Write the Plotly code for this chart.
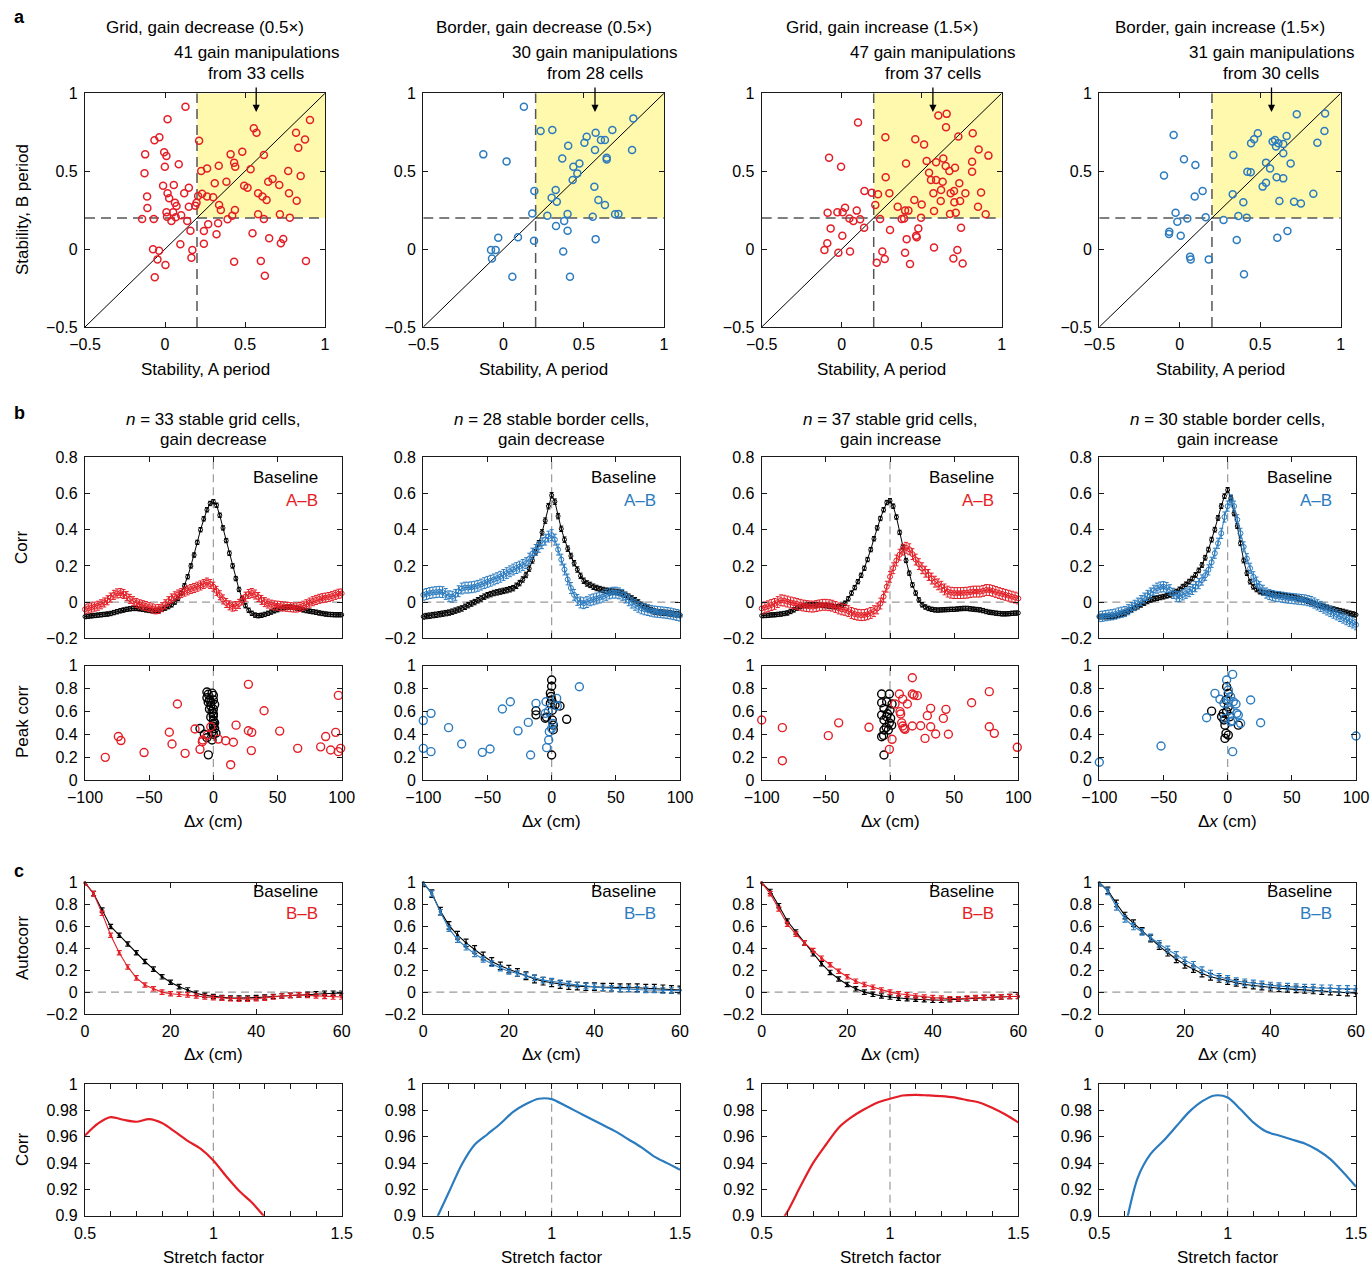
import plotly.graph_objects as go

W, H = 1372, 1266
RED = "#e41e26"
BLUE = "#2b7bbf"
FONT = "Liberation Sans"
MINUS = "\u2212"

# ---------------- Row a: stability scatter ----------------
a_titles = ["Grid, gain decrease (0.5\u00d7)", "Border, gain decrease (0.5\u00d7)",
            "Grid, gain increase (1.5\u00d7)", "Border, gain increase (1.5\u00d7)"]
a_note1 = ["41 gain manipulations", "30 gain manipulations", "47 gain manipulations", "31 gain manipulations"]
a_note2 = ["from 33 cells", "from 28 cells", "from 37 cells", "from 30 cells"]
a_colors = [RED, BLUE, RED, BLUE]

a1_pts = [(0.128, 0.913), (0.016, 0.834), (-0.066, 0.699), (-0.035, 0.718), (-0.124, 0.608), (-0.128, 0.487),
          (-0.112, 0.337), (-0.110, 0.264), (-0.143, 0.193), (-0.070, 0.193), (-0.005, 0.621), (0.009, 0.598),
          (-0.001, 0.529), (0.086, 0.544), (-0.012, 0.407), (0.055, 0.411), (0.016, 0.358), (0.026, 0.326),
          (0.062, 0.298), (0.072, 0.277), (0.009, 0.236), (0.051, 0.236), (0.013, 0.208), (0.040, 0.180),
          (0.067, 0.204), (0.101, 0.217), (0.120, 0.358), (0.149, 0.394), (0.149, 0.272), (0.197, 0.298),
          (0.189, 0.279), (0.139, 0.180), (0.159, 0.118), (0.207, 0.341), (0.213, 0.696), (0.226, 0.501),
          (0.263, 0.518), (0.232, 0.355), (0.263, 0.337), (0.301, 0.333), (0.311, 0.422), (0.336, 0.535),
          (0.338, 0.283), (0.349, 0.251), (0.243, 0.116), (0.270, 0.159), (0.332, 0.166), (0.322, 0.095),
          (0.243, 0.034), (0.384, 0.432), (0.391, 0.191), (0.410, 0.608), (0.432, 0.555), (0.439, 0.529),
          (0.437, 0.251), (0.420, 0.214), (0.483, 0.625), (0.495, 0.407), (0.516, 0.394), (0.535, 0.512),
          (0.555, 0.775), (0.572, 0.747), (0.618, 0.604), (0.582, 0.358), (0.609, 0.337), (0.635, 0.315),
          (0.582, 0.223), (0.618, 0.193), (0.547, 0.101), (0.645, 0.432), (0.672, 0.450), (0.714, 0.411),
          (0.770, 0.501), (0.775, 0.358), (0.819, 0.747), (0.833, 0.651), (0.875, 0.704), (0.906, 0.829),
          (0.848, 0.469), (0.823, 0.311), (0.718, 0.223), (0.780, 0.202), (0.651, 0.069), (0.739, 0.065),
          (0.724, 0.037), (0.432, -0.081), (0.599, -0.077), (0.624, -0.171), (0.881, -0.077), (-0.075, -0.001),
          (-0.037, -0.010), (-0.047, -0.066), (-0.064, -0.181), (0.003, -0.102), (0.096, 0.031), (0.171, -0.006),
          (0.165, -0.055)]
a2_pts = [(0.127, 0.913), (-0.126, 0.608), (0.019, 0.563), (0.231, 0.758), (0.304, 0.764), (0.192, 0.373),
          (0.179, 0.229), (0.273, 0.214), (0.190, 0.054), (0.090, 0.076), (-0.033, 0.073), (-0.078, -0.006),
          (-0.049, -0.006), (-0.072, -0.060), (0.055, -0.177), (0.300, 0.330), (0.325, 0.379), (0.332, 0.304),
          (0.327, 0.148), (0.366, 0.582), (0.403, 0.664), (0.378, 0.180), (0.399, 0.225), (0.399, 0.118),
          (0.372, -0.016), (0.414, -0.177), (0.431, 0.443), (0.435, 0.529), (0.460, 0.486), (0.473, 0.550),
          (0.504, 0.682), (0.518, 0.721), (0.574, 0.747), (0.570, 0.636), (0.566, 0.400), (0.591, 0.315),
          (0.556, 0.208), (0.574, 0.064), (0.607, 0.700), (0.632, 0.700), (0.643, 0.586), (0.643, 0.575),
          (0.632, 0.283), (0.678, 0.764), (0.695, 0.223), (0.716, 0.225), (0.809, 0.839), (0.801, 0.636)]
a3_pts = [(0.102, 0.812), (-0.079, 0.587), (-0.004, 0.529), (-0.088, 0.234), (-0.027, 0.236), (0.006, 0.236),
          (0.021, 0.266), (0.094, 0.247), (-0.069, 0.133), (-0.090, 0.037), (-0.108, -0.006), (-0.021, -0.023),
          (0.004, 0.086), (0.048, 0.197), (0.073, 0.180), (0.115, 0.191), (0.140, 0.137), (0.052, -0.016),
          (0.142, 0.373), (0.188, 0.362), (0.210, 0.283), (0.227, 0.352), (0.240, 0.193), (0.302, 0.122),
          (0.298, 0.358), (0.254, -0.016), (0.269, -0.064), (0.219, -0.088), (0.273, 0.718), (0.275, 0.461),
          (0.350, 0.272), (0.375, 0.193), (0.390, 0.197), (0.396, 0.247), (0.417, 0.247), (0.402, 0.550),
          (0.406, 0.064), (0.396, -0.023), (0.427, -0.096), (0.454, 0.315), (0.460, 0.705), (0.479, 0.133),
          (0.465, 0.086), (0.469, 0.076), (0.496, 0.202), (0.500, 0.287), (0.515, 0.672), (0.531, 0.565),
          (0.546, 0.490), (0.558, 0.443), (0.590, 0.443), (0.573, 0.358), (0.577, 0.244), (0.577, 0.011),
          (0.604, 0.857), (0.656, 0.868), (0.652, 0.782), (0.590, 0.557), (0.635, 0.582), (0.650, 0.533),
          (0.631, 0.432), (0.621, 0.379), (0.619, 0.308), (0.673, 0.501), (0.681, 0.358), (0.677, 0.225),
          (0.708, 0.522), (0.702, 0.373), (0.704, 0.300), (0.713, 0.234), (0.729, 0.722), (0.735, 0.422),
          (0.740, 0.308), (0.723, -0.006), (0.746, 0.137), (0.698, -0.060), (0.756, -0.092), (0.773, 0.358),
          (0.819, 0.743), (0.815, 0.561), (0.815, 0.497), (0.856, 0.640), (0.852, 0.272), (0.871, 0.364),
          (0.917, 0.600), (0.900, 0.223)]
a4_pts = [(-0.038, 0.733), (-0.098, 0.472), (0.026, 0.576), (0.097, 0.540), (0.093, 0.337), (0.142, 0.373),
          (0.161, 0.204), (0.047, 0.197), (-0.026, 0.234), (-0.015, 0.176), (-0.065, 0.112), (-0.067, 0.097),
          (0.006, 0.086), (0.064, -0.049), (0.068, -0.066), (0.180, -0.066), (0.272, 0.187), (0.333, 0.604),
          (0.329, 0.352), (0.364, 0.212), (0.354, 0.058), (0.395, 0.300), (0.420, 0.497), (0.441, 0.493),
          (0.416, 0.202), (0.399, -0.162), (0.443, 0.680), (0.462, 0.705), (0.485, 0.743), (0.515, 0.401),
          (0.536, 0.426), (0.536, 0.555), (0.561, 0.518), (0.577, 0.690), (0.592, 0.700), (0.598, 0.658),
          (0.613, 0.680), (0.602, 0.461), (0.643, 0.675), (0.643, 0.615), (0.643, 0.454), (0.619, 0.308),
          (0.606, 0.073), (0.664, 0.726), (0.669, 0.116), (0.689, 0.550), (0.710, 0.304), (0.753, 0.293),
          (0.727, 0.865), (0.830, 0.355), (0.855, 0.683), (0.899, 0.758), (0.903, 0.871)]
a_pts = [a1_pts, a2_pts, a3_pts, a4_pts]
stab_threshold = 0.2
arrow_x = 0.57

# ---------------- Row b: cross-correlation ----------------
b_title1 = ["<i>n</i> = 33 stable grid cells,", "<i>n</i> = 28 stable border cells,",
            "<i>n</i> = 37 stable grid cells,", "<i>n</i> = 30 stable border cells,"]
b_title2 = ["gain decrease", "gain decrease", "gain increase", "gain increase"]
lag_cm = [-100 + 2.5 * i for i in range(81)]

b1_base = [-0.080, -0.078, -0.076, -0.074, -0.072, -0.070, -0.068, -0.066, -0.063, -0.058, -0.053, -0.048,
           -0.044, -0.040, -0.037, -0.035, -0.035, -0.037, -0.040, -0.043, -0.046, -0.048, -0.048, -0.045,
           -0.040, -0.033, -0.025, -0.015, 0.000, 0.020, 0.050, 0.090, 0.140, 0.200, 0.260, 0.330, 0.400,
           0.460, 0.510, 0.545, 0.555, 0.535, 0.480, 0.410, 0.340, 0.270, 0.200, 0.130, 0.070, 0.020, -0.020,
           -0.045, -0.062, -0.072, -0.075, -0.073, -0.068, -0.062, -0.055, -0.048, -0.042, -0.036, -0.031,
           -0.028, -0.027, -0.029, -0.033, -0.038, -0.043, -0.047, -0.050, -0.053, -0.056, -0.060, -0.063,
           -0.066, -0.068, -0.069, -0.070, -0.070, -0.070]
b1_ab = [-0.040, -0.035, -0.030, -0.025, -0.020, -0.012, -0.002, 0.010, 0.025, 0.040, 0.048, 0.050, 0.045,
         0.033, 0.018, 0.005, -0.005, -0.012, -0.017, -0.022, -0.028, -0.035, -0.040, -0.038, -0.028, -0.012,
         0.005, 0.020, 0.032, 0.042, 0.050, 0.058, 0.065, 0.072, 0.078, 0.085, 0.092, 0.100, 0.108, 0.100,
         0.085, 0.062, 0.038, 0.015, -0.005, -0.018, -0.025, -0.022, -0.010, 0.010, 0.030, 0.045, 0.050,
         0.042, 0.028, 0.012, 0.000, -0.008, -0.014, -0.018, -0.020, -0.022, -0.024, -0.026, -0.028, -0.030,
         -0.030, -0.027, -0.020, -0.012, -0.003, 0.005, 0.012, 0.018, 0.022, 0.025, 0.028, 0.033, 0.040,
         0.046, 0.048]
b2_base = [-0.080, -0.077, -0.075, -0.072, -0.070, -0.067, -0.064, -0.061, -0.058, -0.053, -0.047, -0.041,
           -0.035, -0.026, -0.017, -0.008, 0.000, 0.010, 0.020, 0.030, 0.038, 0.044, 0.050, 0.054, 0.058,
           0.062, 0.066, 0.071, 0.077, 0.090, 0.105, 0.125, 0.150, 0.185, 0.230, 0.275, 0.325, 0.385, 0.450,
           0.530, 0.590, 0.555, 0.475, 0.405, 0.345, 0.295, 0.255, 0.215, 0.180, 0.145, 0.118, 0.103, 0.095,
           0.085, 0.078, 0.072, 0.067, 0.063, 0.060, 0.058, 0.056, 0.053, 0.048, 0.040, 0.030, 0.020, 0.010,
           -0.002, -0.015, -0.025, -0.035, -0.044, -0.052, -0.055, -0.057, -0.059, -0.060, -0.063, -0.066,
           -0.068, -0.070]
b2_ab = [0.040, 0.045, 0.050, 0.053, 0.055, 0.057, 0.055, 0.045, 0.032, 0.030, 0.040, 0.060, 0.075, 0.080,
         0.080, 0.082, 0.085, 0.090, 0.097, 0.105, 0.112, 0.118, 0.125, 0.132, 0.140, 0.150, 0.160, 0.170,
         0.180, 0.188, 0.196, 0.205, 0.215, 0.240, 0.268, 0.288, 0.305, 0.325, 0.345, 0.362, 0.370, 0.345,
         0.290, 0.235, 0.180, 0.125, 0.078, 0.040, 0.012, -0.002, -0.006, 0.000, 0.010, 0.015, 0.020, 0.025,
         0.030, 0.040, 0.048, 0.052, 0.052, 0.048, 0.040, 0.025, 0.010, -0.003, -0.015, -0.026, -0.035,
         -0.040, -0.044, -0.048, -0.052, -0.054, -0.056, -0.058, -0.060, -0.063, -0.067, -0.071, -0.075]
b3_base = [-0.075, -0.074, -0.073, -0.071, -0.070, -0.068, -0.066, -0.063, -0.060, -0.052, -0.043, -0.033,
           -0.025, -0.020, -0.017, -0.015, -0.015, -0.016, -0.017, -0.019, -0.020, -0.022, -0.025, -0.026,
           -0.025, -0.018, -0.006, 0.018, 0.050, 0.080, 0.113, 0.148, 0.187, 0.235, 0.290, 0.350, 0.410,
           0.462, 0.510, 0.550, 0.560, 0.530, 0.470, 0.385, 0.305, 0.230, 0.160, 0.095, 0.050, 0.012, -0.015,
           -0.027, -0.035, -0.040, -0.043, -0.044, -0.043, -0.042, -0.041, -0.040, -0.040, -0.038, -0.036,
           -0.035, -0.035, -0.037, -0.039, -0.041, -0.043, -0.047, -0.052, -0.056, -0.058, -0.061, -0.063,
           -0.065, -0.065, -0.064, -0.062, -0.061, -0.060]
b3_ab = [-0.035, -0.030, -0.023, -0.016, -0.010, 0.000, 0.010, 0.008, 0.003, -0.002, -0.006, -0.010, -0.015,
         -0.019, -0.022, -0.024, -0.025, -0.022, -0.018, -0.015, -0.015, -0.017, -0.020, -0.027, -0.035,
         -0.040, -0.043, -0.050, -0.060, -0.066, -0.070, -0.072, -0.071, -0.067, -0.060, -0.050, -0.035,
         -0.008, 0.030, 0.085, 0.140, 0.187, 0.230, 0.262, 0.290, 0.300, 0.292, 0.265, 0.235, 0.210, 0.187,
         0.168, 0.150, 0.130, 0.113, 0.098, 0.085, 0.070, 0.058, 0.052, 0.050, 0.050, 0.050, 0.051, 0.052,
         0.055, 0.058, 0.058, 0.058, 0.062, 0.067, 0.066, 0.062, 0.056, 0.050, 0.045, 0.040, 0.035, 0.030,
         0.025, 0.020]
b4_base = [-0.080, -0.080, -0.080, -0.080, -0.080, -0.077, -0.072, -0.066, -0.060, -0.051, -0.043, -0.034,
           -0.025, -0.015, -0.005, 0.004, 0.012, 0.018, 0.022, 0.026, 0.030, 0.035, 0.040, 0.048, 0.058,
           0.070, 0.085, 0.098, 0.113, 0.130, 0.150, 0.175, 0.205, 0.245, 0.290, 0.345, 0.400, 0.465, 0.530,
           0.585, 0.620, 0.575, 0.490, 0.420, 0.325, 0.230, 0.160, 0.113, 0.085, 0.070, 0.058, 0.053, 0.050,
           0.048, 0.045, 0.042, 0.040, 0.038, 0.035, 0.032, 0.030, 0.026, 0.021, 0.016, 0.012, 0.005, -0.002,
           -0.008, -0.015, -0.020, -0.025, -0.030, -0.035, -0.039, -0.044, -0.048, -0.052, -0.057, -0.062,
           -0.066, -0.070]
b4_ab = [-0.080, -0.078, -0.075, -0.072, -0.070, -0.066, -0.060, -0.056, -0.052, -0.042, -0.030, -0.018,
         -0.006, 0.008, 0.022, 0.037, 0.050, 0.065, 0.077, 0.083, 0.085, 0.080, 0.068, 0.048, 0.030, 0.032,
         0.040, 0.049, 0.058, 0.070, 0.085, 0.102, 0.122, 0.148, 0.178, 0.220, 0.270, 0.325, 0.380, 0.470,
         0.530, 0.565, 0.530, 0.455, 0.380, 0.305, 0.240, 0.187, 0.140, 0.110, 0.085, 0.065, 0.050, 0.042,
         0.036, 0.032, 0.030, 0.027, 0.024, 0.022, 0.020, 0.018, 0.016, 0.014, 0.012, 0.008, 0.003, -0.005,
         -0.015, -0.024, -0.033, -0.043, -0.052, -0.061, -0.070, -0.079, -0.088, -0.097, -0.106, -0.115,
         -0.125]
b_base = [b1_base, b2_base, b3_base, b4_base]
b_ab = [b1_ab, b2_ab, b3_ab, b4_ab]
b_base_err = [0.012, 0.015, 0.012, 0.013]
b_ab_err = [0.025, 0.030, 0.030, 0.028]

# ---------------- Row b: peak correlation scatter ----------------
p1_base = [(-5, 0.77), (-4, 0.75), (-5, 0.72), (-3, 0.70), (-4, 0.68), (-2, 0.65), (-1, 0.76), (0, 0.74),
           (0, 0.62), (-1, 0.60), (0, 0.58), (-2, 0.55), (0, 0.52), (1, 0.50), (0, 0.47), (1, 0.45),
           (-10.4, 0.45), (-7, 0.40), (-5, 0.37), (0, 0.40), (2, 0.41), (-1, 0.35), (-3.9, 0.22), (0, 0.70),
           (-2, 0.68), (1, 0.66), (-3, 0.62), (0, 0.56), (-1, 0.42), (0, 0.49)]
p1_ab = [(-84.2, 0.198), (-74, 0.38), (-72, 0.345), (-54, 0.24), (-34.3, 0.418), (-32.2, 0.315), (-28, 0.665),
         (-22, 0.233), (-14.3, 0.446), (-10.4, 0.268), (-8.6, 0.335), (-8.3, 0.35), (-4.7, 0.393), (-2, 0.466),
         (3.9, 0.358), (9.6, 0.344), (15.6, 0.33), (17.7, 0.48), (13.5, 0.134), (27.3, 0.837), (27.3, 0.431),
         (29.9, 0.417), (29.6, 0.257), (39.5, 0.606), (51.7, 0.428), (65.7, 0.277), (83.6, 0.29), (87.5, 0.38),
         (91.4, 0.262), (95.3, 0.417), (97.4, 0.74), (97.4, 0.248), (99.2, 0.277)]
p2_base = [(0, 0.875), (0, 0.82), (-1, 0.76), (0, 0.70), (-12.2, 0.606), (-12.2, 0.57), (-4, 0.55), (0.5, 0.525),
           (1.3, 0.44), (2.6, 0.656), (6.5, 0.647), (11.7, 0.531), (0, 0.219), (1.3, 0.48), (-5, 0.54),
           (0.5, 0.61), (-0.5, 0.73), (-1, 0.67)]
p2_ab = [(-100, 0.52), (-100, 0.277), (-94, 0.583), (-94, 0.248), (-80.3, 0.458), (-70.1, 0.315), (-54, 0.242),
         (-48, 0.271), (-38.4, 0.621), (-32.2, 0.685), (-26.2, 0.43), (-18.2, 0.504), (-16.4, 0.219),
         (-12.2, 0.67), (-4.4, 0.685), (-4.9, 0.583), (-3.9, 0.283), (-2.3, 0.35), (-1.8, 0.423), (-2.6, 0.6),
         (3.9, 0.714), (4.4, 0.647), (0, 0.452), (0.8, 0.495), (21.6, 0.816)]
p3_base = [(-6.5, 0.752), (-0.5, 0.752), (-6.5, 0.676), (-4.7, 0.627), (-6.5, 0.569), (-2.6, 0.554), (-4.7, 0.525),
           (-0.5, 0.50), (1.3, 0.48), (-6.5, 0.379), (-4.7, 0.437), (-1.3, 0.437), (-4.7, 0.219), (0, 0.61),
           (-2.6, 0.685), (1.6, 0.665), (-5, 0.39), (-2, 0.58), (0.5, 0.54), (-3, 0.46)]
p3_ab = [(-100, 0.525), (-83.9, 0.458), (-83.9, 0.169), (-48.1, 0.388), (-40, 0.50), (-16.4, 0.461), (1.6, 0.356),
         (-0.5, 0.268), (3.9, 0.665), (7.3, 0.752), (9.9, 0.708), (7.8, 0.598), (8.3, 0.577), (9.1, 0.50),
         (9.9, 0.472), (10.9, 0.452), (11.7, 0.443), (13.5, 0.665), (17.4, 0.895), (17.4, 0.752), (18.7, 0.743),
         (21.3, 0.738), (17.4, 0.472), (23.9, 0.475), (27.3, 0.364), (29.1, 0.563), (31.7, 0.627), (31.7, 0.466),
         (35.6, 0.402), (41.6, 0.539), (43.6, 0.618), (45.5, 0.40), (63.6, 0.676), (77.4, 0.773), (77.4, 0.466),
         (81.3, 0.408), (99.2, 0.286)]
p4_base = [(-12.5, 0.603), (-3.4, 0.583), (-4.7, 0.554), (-2.9, 0.525), (-2.1, 0.48), (-1.3, 0.408), (-2.1, 0.364),
           (0.5, 0.393), (8.3, 0.48), (-0.8, 0.816), (0.5, 0.758), (-1.3, 0.70), (0.5, 0.64), (1.8, 0.554),
           (-0.8, 0.598)]
p4_ab = [(-100, 0.155), (-51.9, 0.297), (-16.4, 0.545), (-9.9, 0.758), (-6, 0.706), (-2.9, 0.671), (-0.8, 0.875),
         (3.9, 0.924), (-2.1, 0.539), (0.5, 0.70), (2.3, 0.729), (4.4, 0.685), (6.5, 0.665), (7.1, 0.583),
         (8.3, 0.569), (2.3, 0.51), (3.9, 0.516), (10.1, 0.496), (3.9, 0.248), (17.9, 0.70), (25.7, 0.501),
         (100, 0.385), (0.5, 0.787), (1.8, 0.612)]
p_base = [p1_base, p2_base, p3_base, p4_base]
p_ab = [p1_ab, p2_ab, p3_ab, p4_ab]

# ---------------- Row c: autocorrelation ----------------
ac_lag = list(range(0, 61, 2))
c1_base = [1.0, 0.90, 0.75, 0.60, 0.52, 0.44, 0.36, 0.28, 0.21, 0.14, 0.09, 0.05, 0.02, -0.01, -0.03, -0.04,
           -0.05, -0.055, -0.055, -0.055, -0.05, -0.045, -0.04, -0.035, -0.03, -0.025, -0.02, -0.015, -0.01,
           -0.01, -0.01]
c1_bb = [1.0, 0.90, 0.72, 0.52, 0.36, 0.23, 0.13, 0.065, 0.03, 0.0, -0.015, -0.02, -0.025, -0.035, -0.045,
         -0.05, -0.055, -0.06, -0.065, -0.065, -0.06, -0.055, -0.045, -0.035, -0.03, -0.025, -0.03, -0.035,
         -0.04, -0.045, -0.045]
c2_base = [1.0, 0.90, 0.74, 0.61, 0.52, 0.45, 0.39, 0.33, 0.28, 0.24, 0.21, 0.18, 0.15, 0.12, 0.10, 0.085,
           0.07, 0.06, 0.055, 0.05, 0.05, 0.045, 0.045, 0.04, 0.04, 0.04, 0.035, 0.035, 0.03, 0.025, 0.02]
c2_bb = [1.0, 0.90, 0.73, 0.58, 0.48, 0.41, 0.35, 0.30, 0.26, 0.22, 0.19, 0.17, 0.15, 0.13, 0.11, 0.10,
         0.085, 0.075, 0.065, 0.055, 0.05, 0.04, 0.035, 0.03, 0.03, 0.025, 0.02, 0.02, 0.015, 0.015, 0.015]
c3_base = [1.0, 0.92, 0.79, 0.65, 0.55, 0.45, 0.35, 0.26, 0.18, 0.12, 0.07, 0.03, 0.0, -0.02, -0.035, -0.045,
           -0.055, -0.06, -0.065, -0.07, -0.075, -0.075, -0.07, -0.065, -0.06, -0.055, -0.05, -0.05, -0.045,
           -0.04, -0.04]
c3_bb = [1.0, 0.90, 0.76, 0.62, 0.53, 0.45, 0.38, 0.31, 0.25, 0.19, 0.14, 0.10, 0.07, 0.045, 0.02, 0.0,
         -0.015, -0.025, -0.035, -0.045, -0.05, -0.055, -0.06, -0.06, -0.055, -0.05, -0.048, -0.045, -0.042,
         -0.04, -0.038]
c4_base = [1.0, 0.93, 0.81, 0.70, 0.63, 0.56, 0.49, 0.42, 0.36, 0.30, 0.25, 0.21, 0.17, 0.14, 0.12, 0.10,
           0.085, 0.07, 0.06, 0.05, 0.04, 0.035, 0.03, 0.025, 0.02, 0.015, 0.01, 0.005, 0.0, -0.005, -0.01]
c4_bb = [1.0, 0.92, 0.78, 0.67, 0.60, 0.55, 0.50, 0.44, 0.39, 0.34, 0.29, 0.25, 0.20, 0.17, 0.14, 0.12,
         0.10, 0.09, 0.08, 0.07, 0.06, 0.055, 0.05, 0.045, 0.04, 0.04, 0.035, 0.035, 0.03, 0.03, 0.03]
c_base = [c1_base, c2_base, c3_base, c4_base]
c_bb = [c1_bb, c2_bb, c3_bb, c4_bb]
c_base_err = [0.02, 0.035, 0.02, 0.03]
c_bb_err = [0.02, 0.025, 0.02, 0.03]

# ---------------- Row c: stretch factor ----------------
s1_x = [0.50, 0.55, 0.60, 0.65, 0.70, 0.75, 0.80, 0.85, 0.90, 0.95, 1.00, 1.05, 1.10, 1.15, 1.20, 1.25]
s1_y = [0.961, 0.970, 0.975, 0.973, 0.9715, 0.9735, 0.9705, 0.964, 0.957, 0.951, 0.942, 0.930, 0.919, 0.910,
        0.899, 0.887]
s2_x = [0.50, 0.55, 0.60, 0.65, 0.70, 0.75, 0.80, 0.85, 0.90, 0.95, 1.00, 1.05, 1.10, 1.15, 1.20, 1.25, 1.30,
        1.35, 1.40, 1.45, 1.50]
s2_y = [0.872, 0.897, 0.918, 0.939, 0.954, 0.962, 0.970, 0.979, 0.985, 0.989, 0.9887, 0.984, 0.979, 0.974,
        0.969, 0.964, 0.958, 0.952, 0.945, 0.940, 0.935]
s3_x = [0.55, 0.60, 0.65, 0.70, 0.75, 0.80, 0.85, 0.90, 0.95, 1.00, 1.05, 1.10, 1.15, 1.20, 1.25, 1.30, 1.35,
        1.40, 1.45, 1.50]
s3_y = [0.888, 0.903, 0.922, 0.940, 0.954, 0.967, 0.975, 0.981, 0.986, 0.989, 0.9915, 0.992, 0.9915, 0.991,
        0.990, 0.988, 0.986, 0.982, 0.977, 0.971]
s4_x = [0.60, 0.65, 0.70, 0.75, 0.80, 0.85, 0.90, 0.95, 1.00, 1.05, 1.10, 1.15, 1.20, 1.25, 1.30, 1.35, 1.40,
        1.45, 1.50]
s4_y = [0.890, 0.929, 0.947, 0.957, 0.968, 0.979, 0.987, 0.9915, 0.990, 0.981, 0.971, 0.964, 0.961, 0.958,
        0.955, 0.950, 0.943, 0.933, 0.922]
s_x = [s1_x, s2_x, s3_x, s4_x]
s_y = [s1_y, s2_y, s3_y, s4_y]

# ---------------- tick definitions ----------------
def fmt(v):
    s = ("%g" % v)
    return s.replace("-", MINUS)

ticks_stab = [-0.5, 0, 0.5, 1]
ticks_lag = [-100, -50, 0, 50, 100]
ticks_corr = [-0.2, 0, 0.2, 0.4, 0.6, 0.8]
ticks_peak = [0, 0.2, 0.4, 0.6, 0.8, 1]
ticks_ac_x = [0, 20, 40, 60]
ticks_ac_y = [-0.2, 0, 0.2, 0.4, 0.6, 0.8, 1]
ticks_sf_x = [0.5, 1, 1.5]
ticks_sf_minor = [0.6, 0.7, 0.8, 0.9, 1.1, 1.2, 1.3, 1.4]
ticks_sf_y = [0.9, 0.92, 0.94, 0.96, 0.98, 1]

# ---------------- layout geometry (pixels) ----------------
cols_wide = [(85, 341.7), (423.3, 680), (761.7, 1018.3), (1099.3, 1356)]
cols_sq = [(85, 325), (423.3, 664), (761.7, 1001.7), (1099.3, 1340.7)]
rows_px = [(93.3, 327), (457.3, 638.3), (665.7, 780), (882.7, 1014), (1084.3, 1215.7)]


def px(x):
    return x / W


def py(y):
    return 1 - y / H


fig = go.Figure()
layout = {}
annotations = []
shapes = []


def refs(k):
    return ("x", "y") if k == 1 else (f"x{k}", f"y{k}")


def axis(**kw):
    d = dict(showline=True, linecolor="#1a1a1a", linewidth=1.2, mirror="allticks", ticks="inside",
             ticklen=5, tickwidth=1.1, tickcolor="#1a1a1a", showgrid=False, zeroline=False,
             tickfont=dict(family=FONT, size=16, color="black"), fixedrange=True, ticklabelstandoff=3,
             automargin=False)
    d.update(kw)
    return d


def add_axes(k, xl, xr, yt, yb, xrange, yrange, xt, yt_vals, show_x=True, minor=None):
    xn = "xaxis" if k == 1 else f"xaxis{k}"
    yn = "yaxis" if k == 1 else f"yaxis{k}"
    xa, ya = refs(k)
    xd = axis(domain=[px(xl), px(xr)], range=xrange, tickvals=xt, ticktext=[fmt(v) for v in xt],
              anchor=ya, showticklabels=show_x)
    if minor is not None:
        xd["minor"] = dict(tickvals=minor, ticks="inside", ticklen=5, tickcolor="#1a1a1a", tickwidth=1.1)
    layout[xn] = xd
    layout[yn] = axis(domain=[py(yb), py(yt)], range=yrange, tickvals=yt_vals,
                      ticktext=[fmt(v) for v in yt_vals], anchor=xa)


def txt(x, y, s, size=17, color="black", anchor="center", angle=0, bold=False):
    if bold:
        s = "<b>" + s + "</b>"
    annotations.append(dict(x=px(x), y=py(y), xref="paper", yref="paper", text=s, showarrow=False,
                            xanchor=anchor, yanchor="middle", textangle=angle,
                            font=dict(family=FONT, size=size, color=color)))


def dash_line(k, x0, y0, x1, y1, color="#9a9a9a", width=1.2, dash="8px,5px"):
    xa, ya = refs(k)
    shapes.append(dict(type="line", xref=xa, yref=ya, x0=x0, y0=y0, x1=x1, y1=y1, layer="below",
                       line=dict(color=color, width=width, dash=dash)))


for c in range(4):
    col = a_colors[c]
    # ----- row a
    k = 1 + c
    xl, xr = cols_sq[c]
    yt, yb = rows_px[0]
    add_axes(k, xl, xr, yt, yb, [-0.5, 1], [-0.5, 1], ticks_stab, ticks_stab)
    xa, ya = refs(k)
    shapes.append(dict(type="rect", xref=xa, yref=ya, x0=stab_threshold, x1=1, y0=stab_threshold, y1=1,
                       fillcolor="#fff9ae", line=dict(width=0), layer="below"))
    dash_line(k, -0.5, stab_threshold, 1, stab_threshold, color="#555555", width=1.5, dash="10px,6px")
    dash_line(k, stab_threshold, -0.5, stab_threshold, 1, color="#555555", width=1.5, dash="10px,6px")
    shapes.append(dict(type="line", xref=xa, yref=ya, x0=-0.5, y0=-0.5, x1=1, y1=1, layer="below",
                       line=dict(color="black", width=1)))
    pts = a_pts[c]
    fig.add_trace(go.Scatter(x=[p[0] for p in pts], y=[p[1] for p in pts], mode="markers", xaxis=xa, yaxis=ya,
                             marker=dict(symbol="circle-open", size=7, color=col, line=dict(width=1.5)),
                             cliponaxis=False, showlegend=False))
    cx = (xl + xr) / 2
    txt(cx, 27, a_titles[c])
    nx = xl + (arrow_x + 0.5) / 1.5 * (xr - xl)
    txt(nx, 53, a_note1[c])
    txt(nx, 74, a_note2[c])
    annotations.append(dict(x=arrow_x, y=0.88, xref=xa, yref=ya, ax=0, ay=-26, axref="pixel", ayref="pixel",
                            text="", showarrow=True, arrowhead=2, arrowsize=1.1, arrowwidth=1.3,
                            arrowcolor="black"))
    txt(cx, 369, "Stability, A period")

    # ----- row b: corr
    k = 5 + c
    xl, xr = cols_wide[c]
    yt, yb = rows_px[1]
    add_axes(k, xl, xr, yt, yb, [-100, 100], [-0.2, 0.8], ticks_lag, ticks_corr, show_x=False)
    xa, ya = refs(k)
    dash_line(k, 0, -0.2, 0, 0.8)
    dash_line(k, -100, 0, 100, 0)
    fig.add_trace(go.Scatter(x=lag_cm, y=b_base[c], mode="lines+markers", xaxis=xa, yaxis=ya,
                             line=dict(color="black", width=1),
                             marker=dict(symbol="circle-open", size=4, color="black", line=dict(width=1)),
                             error_y=dict(type="constant", value=b_base_err[c], color="black", thickness=1, width=2),
                             cliponaxis=False, showlegend=False))
    fig.add_trace(go.Scatter(x=lag_cm, y=b_ab[c], mode="lines+markers", xaxis=xa, yaxis=ya,
                             line=dict(color=col, width=1),
                             marker=dict(symbol="circle-open", size=5, color=col, line=dict(width=1)),
                             error_y=dict(type="constant", value=b_ab_err[c], color=col, thickness=1, width=2),
                             cliponaxis=False, showlegend=False))
    cx = (xl + xr) / 2
    txt(cx, 419, b_title1[c])
    txt(cx, 440, b_title2[c])
    txt(xr - 22, 477, "Baseline", anchor="right")
    txt(xr - 22, 500, "A\u2013B", color=col, anchor="right")

    # ----- row b: peak corr
    k = 9 + c
    yt, yb = rows_px[2]
    add_axes(k, xl, xr, yt, yb, [-100, 100], [0, 1], ticks_lag, ticks_peak)
    xa, ya = refs(k)
    dash_line(k, 0, 0, 0, 1)
    pb = p_base[c]
    pa = p_ab[c]
    fig.add_trace(go.Scatter(x=[p[0] for p in pb], y=[p[1] for p in pb], mode="markers", xaxis=xa, yaxis=ya,
                             marker=dict(symbol="circle-open", size=8, color="black", line=dict(width=1.4)),
                             cliponaxis=False, showlegend=False))
    fig.add_trace(go.Scatter(x=[p[0] for p in pa], y=[p[1] for p in pa], mode="markers", xaxis=xa, yaxis=ya,
                             marker=dict(symbol="circle-open", size=8, color=col, line=dict(width=1.4)),
                             cliponaxis=False, showlegend=False))
    txt(cx, 821, "\u0394<i>x</i> (cm)")

    # ----- row c: autocorr
    k = 13 + c
    yt, yb = rows_px[3]
    add_axes(k, xl, xr, yt, yb, [0, 60], [-0.2, 1], ticks_ac_x, ticks_ac_y)
    xa, ya = refs(k)
    dash_line(k, 0, 0, 60, 0)
    fig.add_trace(go.Scatter(x=ac_lag, y=c_base[c], mode="lines+markers", xaxis=xa, yaxis=ya,
                             line=dict(color="black", width=1.1),
                             marker=dict(symbol="circle", size=3, color="black"),
                             error_y=dict(type="constant", value=c_base_err[c], color="black", thickness=1.2, width=2.5),
                             cliponaxis=False, showlegend=False))
    fig.add_trace(go.Scatter(x=ac_lag, y=c_bb[c], mode="lines+markers", xaxis=xa, yaxis=ya,
                             line=dict(color=col, width=1.1),
                             marker=dict(symbol="circle", size=3, color=col),
                             error_y=dict(type="constant", value=c_bb_err[c], color=col, thickness=1.2, width=2.5),
                             cliponaxis=False, showlegend=False))
    txt(xr - 22, 891, "Baseline", anchor="right")
    txt(xr - 22, 913, "B\u2013B", color=col, anchor="right")
    txt(cx, 1054, "\u0394<i>x</i> (cm)")

    # ----- row c: stretch factor
    k = 17 + c
    yt, yb = rows_px[4]
    add_axes(k, xl, xr, yt, yb, [0.5, 1.5], [0.9, 1], ticks_sf_x, ticks_sf_y, minor=ticks_sf_minor)
    xa, ya = refs(k)
    dash_line(k, 1, 0.9, 1, 1)
    fig.add_trace(go.Scatter(x=s_x[c], y=s_y[c], mode="lines", xaxis=xa, yaxis=ya,
                             line=dict(color=col, width=2.2, shape="spline", smoothing=0.8),
                             showlegend=False))
    txt(cx, 1257, "Stretch factor")

# y axis titles (first column only)
txt(22, 210, "Stability, B period", angle=-90)
txt(22, 548, "Corr", angle=-90)
txt(22, 722, "Peak corr", angle=-90)
txt(22, 948, "Autocorr", angle=-90)
txt(22, 1150, "Corr", angle=-90)

# panel letters
txt(19, 17, "a", size=18, bold=True)
txt(19, 413, "b", size=18, bold=True)
txt(19, 871, "c", size=18, bold=True)

layout.update(dict(width=W, height=H, margin=dict(l=0, r=0, t=0, b=0, pad=0, autoexpand=False),
                   paper_bgcolor="white", plot_bgcolor="white", showlegend=False,
                   annotations=annotations, shapes=shapes,
                   font=dict(family=FONT, size=16, color="black")))
fig.update_layout(**layout)
fig.write_html("out.html", config={"displayModeBar": False})
